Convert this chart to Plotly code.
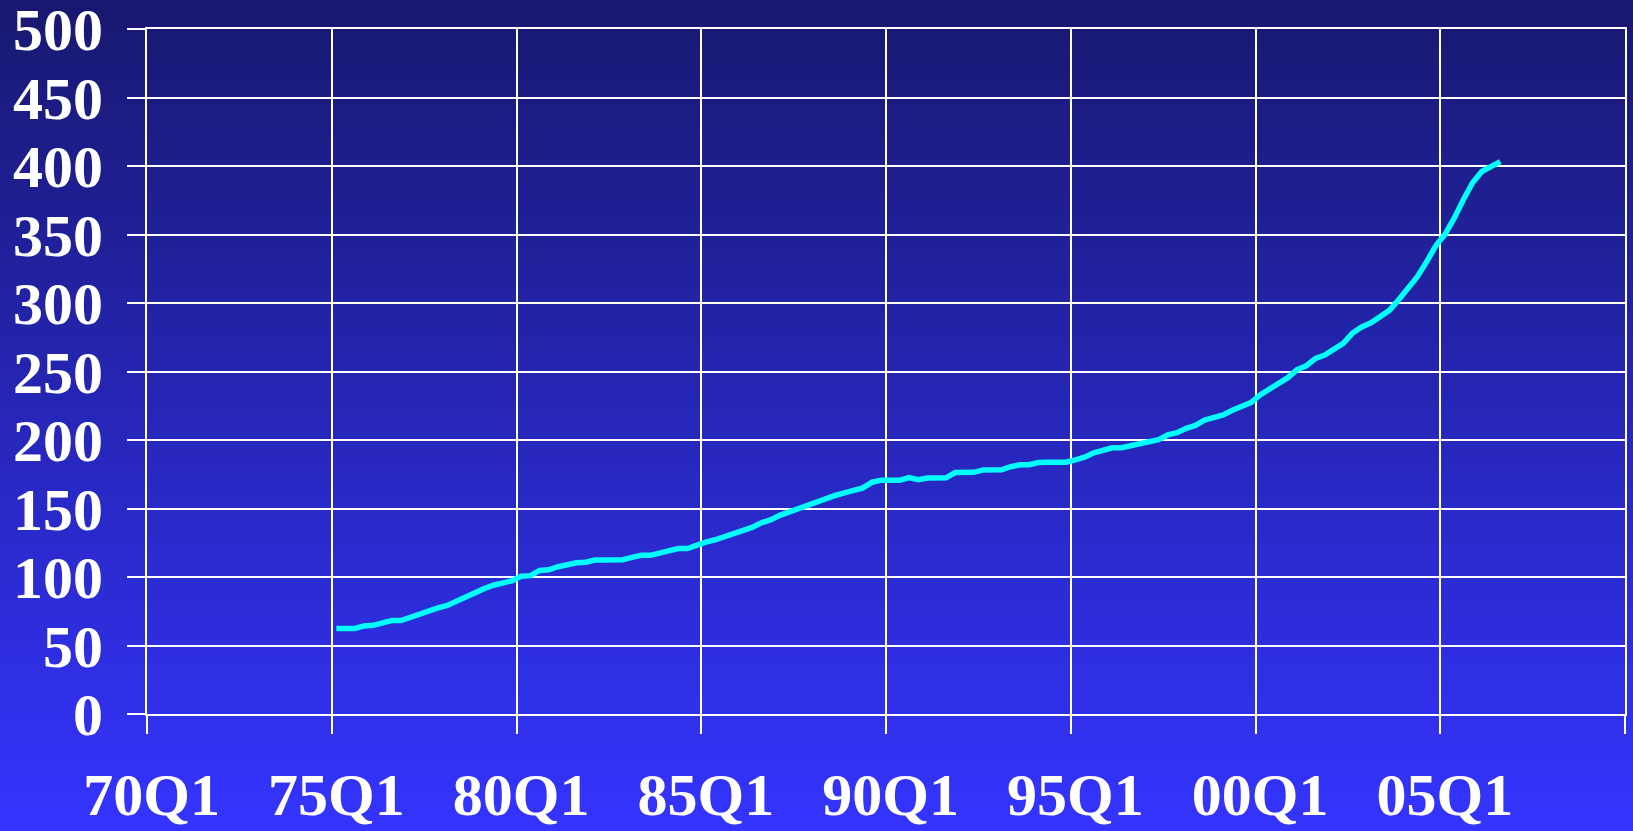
import base64, struct, zlib
import plotly.graph_objects as go

# ---- data ----
quarters = [f"{y % 100:02d}Q{q}" for y in range(1970, 2010) for q in range(1, 5)]
series_start = "75Q1"
values = [
    62.4, 62.4, 62.4, 64.3, 64.7, 66.5, 68.2, 68.2, 70.7, 73.5,   # 75Q1-77Q2
    75.8, 77.5, 79.2, 82.5, 85.0, 88.0, 91.5, 94.0, 95.5, 97.2,   # 77Q3-79Q4
    100.5, 101.0, 104.8, 105.3, 107.5, 109.3, 110.4, 110.8, 112.4, 112.5,  # 80Q1-82Q2
    112.5, 112.6, 114.3, 115.8, 115.8, 117.5, 119.5, 120.8, 120.8, 123.5,  # 82Q3-84Q4
    125.5, 127.2, 129.3, 131.5, 134.5, 136.2, 139.6, 141.7, 145.0, 147.4,  # 85Q1-87Q2
    150.5, 152.3, 154.5, 157.8, 159.5, 161.4, 163.2, 165.0, 169.2, 170.7,  # 87Q3-89Q4
    170.7, 170.7, 172.6, 171.0, 172.3, 172.4, 172.4, 176.2, 176.3, 176.4,  # 90Q1-92Q2
    178.1, 178.2, 178.2, 180.5, 181.9, 181.9, 183.5, 183.8, 183.8, 183.8,  # 92Q3-94Q4
    185.5, 187.5, 190.7, 192.8, 194.3, 194.4, 196.0, 196.8, 198.3, 200.3,  # 95Q1-97Q2
    203.7, 205.3, 208.5, 210.6, 214.6, 216.6, 218.3, 221.7, 225.0, 227.3,  # 97Q3-99Q4
    232.9, 237.5, 241.3, 245.5, 251.4, 254.2, 259.6, 262.0, 266.3, 270.5,  # 00Q1-02Q2
    278.0, 282.5, 285.5, 290.2, 294.6, 302.4, 310.6, 319.0, 329.8, 341.5,  # 02Q3-04Q4
    350.0, 361.7, 375.4, 387.8, 396.0, 399.4, 403.2,                       # 05Q1-06Q3
]
start = quarters.index(series_start)
x_cats = quarters[start:start + len(values)]

# ---- style ----
W, H = 1633, 831
ML, MR, MT, MB = 147, 8, 29, 117
FONT = "Liberation Serif, Times New Roman, serif"
TOP = (24, 24, 112)
BOT = (52, 52, 255)


def gradient_png(h, c0, c1):
    rows = b""
    for i in range(h):
        t = i / (h - 1)
        px = bytes(int(round(a + (b - a) * t)) for a, b in zip(c0, c1))
        rows += b"\x00" + px
    def chunk(tag, data):
        c = struct.pack(">I", len(data)) + tag + data
        return c + struct.pack(">I", zlib.crc32(tag + data) & 0xffffffff)
    png = b"\x89PNG\r\n\x1a\n"
    png += chunk(b"IHDR", struct.pack(">IIBBBBB", 1, h, 8, 2, 0, 0, 0))
    png += chunk(b"IDAT", zlib.compress(rows))
    png += chunk(b"IEND", b"")
    return "data:image/png;base64," + base64.b64encode(png).decode()


pw = W - ML - MR
ph = H - MT - MB

fig = go.Figure()
fig.add_trace(go.Scatter(
    x=x_cats, y=values, mode="lines",
    line=dict(color="#00ffff", width=5.5),
    hoverinfo="x+y", showlegend=False,
))

fig.add_layout_image(dict(
    source=gradient_png(H, TOP, BOT),
    xref="paper", yref="paper",
    x=-ML / pw, y=1 + MT / ph,
    sizex=W / pw, sizey=H / ph,
    sizing="stretch", xanchor="left", yanchor="top",
    layer="below",
))

fig.update_layout(
    width=W, height=H,
    margin=dict(l=ML, r=MR, t=MT, b=MB, autoexpand=False),
    paper_bgcolor="#3333ff",
    plot_bgcolor="rgba(0,0,0,0)",
    font=dict(family=FONT, color="white"),
    showlegend=False,
)

fig.update_xaxes(
    type="category",
    categoryorder="array", categoryarray=quarters,
    range=[-0.5, len(quarters) - 0.5],
    tickmode="linear", tick0=0, dtick=20,
    tickson="boundaries",
    tickangle=0, automargin=False, ticklabeloverflow="allow",
    showgrid=True, gridcolor="white", gridwidth=2,
    ticks="outside", ticklen=18, tickwidth=2, tickcolor="white",
    tickfont=dict(family=FONT, size=60, color="white", weight="bold"),
    ticklabelstandoff=27,
    showline=True, linecolor="white", linewidth=2, mirror=True,
    zeroline=False,
)

fig.update_yaxes(
    range=[0, 500], tickmode="linear", tick0=0, dtick=50,
    automargin=False, ticklabeloverflow="allow",
    showgrid=True, gridcolor="white", gridwidth=2,
    ticks="outside", ticklen=18, tickwidth=2, tickcolor="white",
    tickfont=dict(family=FONT, size=60, color="white", weight="bold"),
    ticklabelstandoff=12,
    showline=True, linecolor="white", linewidth=2, mirror=True,
    zeroline=False,
)

fig.write_html(
    "out.html",
    config={"displayModeBar": False},
    post_script="document.body.style.margin='0';document.body.style.padding='0';"
                "document.documentElement.style.overflow='hidden';",
)
